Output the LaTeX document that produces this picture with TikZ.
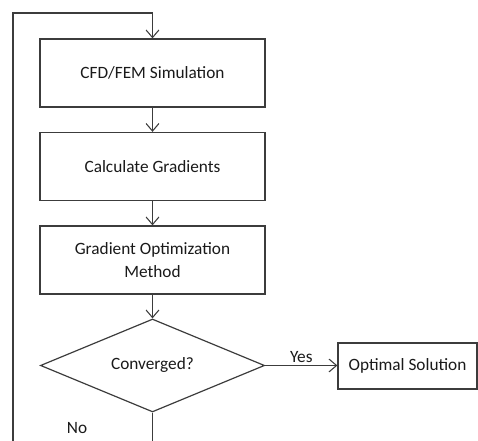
\documentclass[tikz,border=0pt]{standalone}
\usepackage{fontspec}
\setmainfont{Carlito}
\usepackage{tikz}
\usetikzlibrary{arrows.meta,positioning,shapes.geometric}
\definecolor{ink}{HTML}{1A1A1A}
\definecolor{edge}{HTML}{3C3C3C}
\tikzset{
  >={Straight Barb[length=2mm,width=3.4mm,line width=0.8pt]},
  every picture/.style={line join=miter},
  box/.style={draw=edge, fill=white, align=center, text=ink, line width=0.9pt,
    font=\fontsize{13}{17}\selectfont, minimum width=5.95cm, minimum height=1.8cm,
    inner sep=3pt},
  decbox/.style={diamond, draw=edge, fill=white, text=ink, line width=0.9pt,
    font=\fontsize{13}{17}\selectfont, minimum width=5.93cm, minimum height=2.46cm,
    inner sep=0pt, aspect=2.4},
  endbox/.style={box, minimum width=3.68cm, minimum height=1.22cm},
  arr/.style={->, draw=edge, line width=0.9pt},
  line/.style={draw=edge, line width=0.9pt},
  lbl/.style={text=ink, font=\fontsize{13}{15}\selectfont, inner sep=2pt},
}

\begin{document}
\begin{tikzpicture}
  \useasboundingbox (0,0) rectangle (12.647,11.668);
  % ======================= main chain =======================
  \node[box] (sim) at (4.035,9.737) {CFD/FEM Simulation};
  \node[box] (grad) at (4.035,7.263) {Calculate Gradients};
  \node[box] (opt) at (4.035,4.789) {Gradient Optimization\\Method};
  \node[decbox] (conv) at (4.035,1.998) {Converged?};
  \node[endbox] (sol) at (10.782,1.984) {Optimal Solution};
  \draw[arr] (sim) -- (grad);
  \draw[arr] (grad) -- (opt);
  \draw[arr] (opt) -- (conv);
  \draw[arr] (conv.east) -- node[above, lbl] {Yes} (conv.east -| sol.west);

  % ======================= loop back =======================
  \coordinate (noend) at (4.035,0);
  \coordinate (loopstart) at (0.344,0);
  \coordinate (looptop) at (0.344,11.324);
  \draw[line] (conv.south) -- (noend);
  \draw[arr] (loopstart) -- (looptop) -| (sim.north);
  \node[lbl] (no) at (2.037,0.344) {No};
\end{tikzpicture}
\end{document}
